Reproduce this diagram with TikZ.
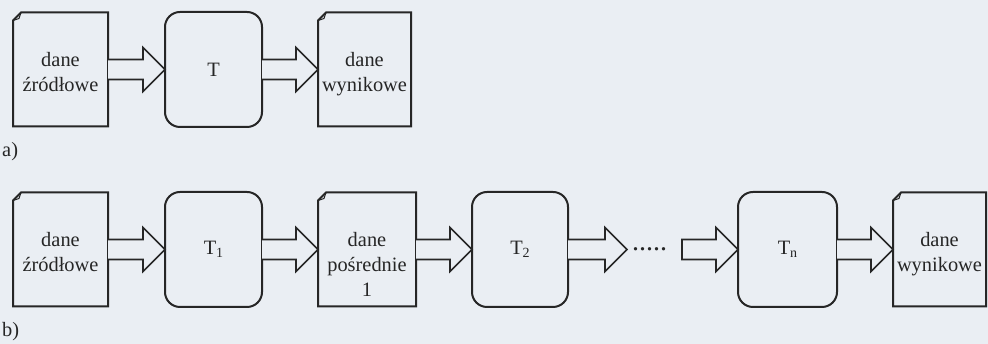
\documentclass[tikz,border=0pt]{standalone}
\usepackage{fontspec}
\setmainfont{Liberation Serif}
\usetikzlibrary{calc}
\definecolor{bgc}{RGB}{234,238,243}
\definecolor{ink}{RGB}{38,38,38}
\newcommand\mainfs{\fontsize{20.4}{25}\selectfont}
\newcommand\subx[1]{\raisebox{-2.5pt}{\fontsize{14}{14}\selectfont #1}}
\tikzset{
  docbox/.style={minimum height=114pt, inner sep=0pt, outer sep=0pt},
  doclabel/.style={anchor=north, align=center, inner sep=0pt, yshift=-40pt, font=\mainfs, text=ink},
  procbox/.style={draw=ink, line width=2pt, rounded corners=15pt, minimum height=115pt,
    inner sep=0pt, outer sep=0pt, font=\mainfs, text=ink},
  docline/.style={draw=ink, line width=2pt, line join=miter},
  barrow/.style={draw=ink, line width=1.6pt, line join=miter, fill=bgc},
  tag/.style={anchor=base west, inner sep=0pt, font=\mainfs, text=ink},
}
\newcommand\docshape[1]{%
  \draw[docline] ($(#1.north west)+(0,-8pt)$) -- ($(#1.north west)+(8pt,0)$) -- (#1.north east)
    -- (#1.south east) -- (#1.south west) -- cycle;
  \draw[draw=ink, line width=1pt] ($(#1.north west)+(0,-8pt)$) -- ($(#1.north west)+(6pt,-6pt)$)
    -- ($(#1.north west)+(8pt,0)$);}
\newcommand\barr[2]{%
  \draw[barrow] let \p1=(#1), \p2=(#2) in
    (\x1,\y1+10pt) -- (\x2-22pt,\y1+10pt) -- (\x2-22pt,\y1+22pt) -- (\x2,\y1)
    -- (\x2-22pt,\y1-22pt) -- (\x2-22pt,\y1-10pt) -- (\x1,\y1-10pt);}
\newcommand\barrclosed[2]{%
  \draw[barrow] let \p1=(#1), \p2=(#2) in
    (\x1,\y1+10pt) -- (\x2-22pt,\y1+10pt) -- (\x2-22pt,\y1+22pt) -- (\x2,\y1)
    -- (\x2-22pt,\y1-22pt) -- (\x2-22pt,\y1-10pt) -- (\x1,\y1-10pt) -- cycle;}
\begin{document}
\begin{tikzpicture}[x=1pt,y=1pt]
\fill[bgc] (0,0) rectangle (988,344);
\useasboundingbox (0,0) rectangle (988,344);
% row a
\node[docbox, minimum width=95pt, label={[doclabel]north:dane\\źródłowe}] (da1) at (60.5,274.5) {};
\node[procbox, minimum width=97pt] (ta) at (213.5,274.5) {\raisebox{-4pt}{T}};
\node[docbox, minimum width=93pt, label={[doclabel]north:dane\\wynikowe}] (da2) at (364.5,274.5) {};
\docshape{da1}
\docshape{da2}
\barr{da1.east}{ta.west}
\barr{ta.east}{da2.west}
\node[tag] (la) at (2,187) {a)};
% row b
\node[docbox, minimum width=95pt, label={[doclabel]north:dane\\źródłowe}] (db1) at (60.5,94.5) {};
\node[procbox, minimum width=97pt] (t1) at (213.5,94.5) {\raisebox{-4pt}{T\subx{1}}};
\node[docbox, minimum width=98pt, label={[doclabel]north:dane\\pośrednie\\1}] (dp) at (367,94.5) {};
\node[procbox, minimum width=96pt] (t2) at (520,94.5) {\raisebox{-4pt}{T\subx{2}}};
\node[inner sep=0pt, font=\fontsize{28}{28}\selectfont, text=ink] (dots) at (649.5,94.5) {.....};
\coordinate (dend) at (627,94.5);
\coordinate (dstart) at (682,94.5);
\node[procbox, minimum width=99pt] (tn) at (787.5,94.5) {\raisebox{-4pt}{T\subx{n}}};
\node[docbox, minimum width=93pt, label={[doclabel]north:dane\\wynikowe}] (db2) at (939.5,94.5) {};
\docshape{db1}
\docshape{dp}
\docshape{db2}
\barr{db1.east}{t1.west}
\barr{t1.east}{dp.west}
\barr{dp.east}{t2.west}
\barr{t2.east}{dend}
\barrclosed{dstart}{tn.west}
\barr{tn.east}{db2.west}
\node[tag] (lb) at (2,7) {b)};
\end{tikzpicture}
\end{document}
